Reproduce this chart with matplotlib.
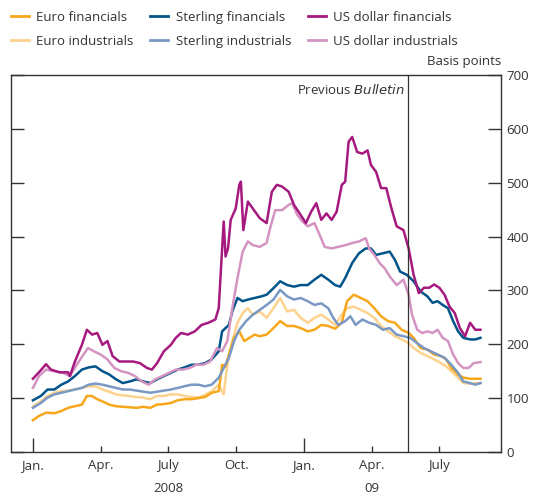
import matplotlib
matplotlib.use("Agg")
import matplotlib.pyplot as plt
from matplotlib.lines import Line2D

plt.rcParams['font.family'] = ['Open Sans', 'DejaVu Sans']

# x positions are months since January 2008
usd_fin_m = [0.00, 0.27, 0.58, 0.80, 1.18, 1.56, 1.64, 1.86, 2.17, 2.39, 2.62, 2.85, 3.08, 3.30,
             3.53, 3.83, 4.14, 4.44, 4.74, 5.05, 5.27, 5.50, 5.80, 6.11, 6.33, 6.56, 6.86, 7.17,
             7.47, 7.77, 8.08, 8.23, 8.38, 8.45, 8.53, 8.64, 8.76, 8.98, 9.14, 9.21, 9.32, 9.52,
             9.74, 10.05, 10.35, 10.58, 10.80, 11.03, 11.33, 11.56, 11.86, 12.09, 12.32, 12.55,
             12.77, 13.00, 13.23, 13.45, 13.68, 13.83, 13.98, 14.14, 14.36, 14.59, 14.82, 14.97,
             15.20, 15.42, 15.65, 15.88, 16.11, 16.41, 16.64, 16.86, 17.09, 17.32, 17.55, 17.77,
             18.00, 18.23, 18.45, 18.68, 18.91, 19.14, 19.36, 19.59, 19.82]
usd_fin = [136, 148, 163, 153, 148, 148, 141, 168, 199, 227, 218, 221, 199, 206,
           178, 168, 168, 168, 165, 156, 153, 165, 187, 199, 212, 221, 218, 224,
           236, 240, 246, 267, 378, 428, 363, 378, 431, 452, 496, 502, 412, 465,
           452, 434, 425, 483, 496, 493, 483, 459, 440, 425, 446, 462,
           431, 443, 431, 446, 496, 502, 576, 585, 557, 554, 560, 533,
           520, 490, 490, 452, 419, 412, 378, 329, 295, 305, 305, 311,
           305, 292, 270, 258, 230, 215, 240, 227, 227]

usd_ind_m = [0.00, 0.27, 0.58, 0.95, 1.33, 1.64, 1.94, 2.24, 2.44, 2.70, 3.00, 3.30, 3.61, 3.91,
             4.21, 4.52, 4.82, 5.12, 5.42, 5.73, 6.03, 6.33, 6.64, 6.94, 7.24, 7.55, 7.85, 8.15,
             8.38, 8.61, 8.83, 9.06, 9.29, 9.52, 9.74, 10.05, 10.35, 10.50, 10.73, 11.03, 11.33,
             11.48, 11.71, 11.94, 12.17, 12.47, 12.70, 12.92, 13.23, 13.53, 13.83, 14.14, 14.44,
             14.74, 14.89, 15.12, 15.35, 15.58, 15.80, 16.11, 16.41, 16.64, 16.79, 17.02, 17.24,
             17.47, 17.70, 17.92, 18.15, 18.38, 18.61, 18.83, 19.06, 19.29, 19.52, 19.82]
usd_ind = [119, 141, 153, 150, 147, 141, 162, 181, 193, 187, 181, 172, 156, 150,
           147, 141, 131, 125, 135, 141, 147, 153, 153, 156, 162, 162, 168, 193,
           187, 206, 267, 323, 372, 391, 384, 381, 388, 415, 449, 449, 459,
           462, 440, 428, 419, 425, 403, 381, 378, 381, 384, 388, 391,
           397, 378, 366, 351, 341, 326, 310, 320, 292, 255, 227, 221,
           224, 221, 227, 212, 206, 181, 165, 156, 156, 165, 167]

gbp_fin_m = [0.00, 0.35, 0.65, 0.95, 1.26, 1.56, 1.86, 2.17, 2.47, 2.77, 3.08, 3.38, 3.68, 3.98,
             4.29, 4.59, 4.89, 5.20, 5.50, 5.80, 6.11, 6.41, 6.71, 7.02, 7.32, 7.62, 7.92, 8.23,
             8.38, 8.53, 8.68, 8.83, 9.06, 9.29, 9.52, 9.82, 10.12, 10.35, 10.65, 10.95, 11.26,
             11.56, 11.86, 12.17, 12.47, 12.77, 13.08, 13.38, 13.61, 13.83, 14.14, 14.44, 14.74,
             14.97, 15.20, 15.50, 15.80, 16.03, 16.26, 16.56, 16.86, 17.17, 17.47, 17.70, 17.92,
             18.15, 18.38, 18.61, 18.83, 19.06, 19.36, 19.59, 19.82]
gbp_fin = [96, 104, 116, 116, 125, 131, 141, 153, 157, 159, 150, 144, 135, 128,
           131, 135, 131, 128, 135, 141, 147, 153, 157, 162, 162, 165, 172, 187,
           224, 230, 236, 261, 286, 280, 283, 286, 289, 292, 304, 317, 310,
           307, 310, 310, 320, 329, 320, 310, 307, 323, 351, 369, 378,
           378, 366, 369, 372, 357, 335, 329, 317, 298, 289, 277, 280,
           273, 267, 243, 224, 212, 209, 209, 212]

gbp_ind_m = [0.00, 0.35, 0.65, 0.95, 1.26, 1.56, 1.86, 2.17, 2.47, 2.77, 3.08, 3.38, 3.68, 3.98,
             4.29, 4.59, 4.89, 5.20, 5.50, 5.80, 6.11, 6.41, 6.71, 7.02, 7.32, 7.62, 7.92, 8.23,
             8.45, 8.68, 8.91, 9.14, 9.44, 9.74, 10.05, 10.35, 10.65, 10.95, 11.26, 11.56, 11.86,
             12.17, 12.47, 12.77, 13.08, 13.30, 13.53, 13.83, 14.06, 14.29, 14.59, 14.89, 15.20,
             15.50, 15.80, 16.11, 16.41, 16.71, 17.02, 17.32, 17.62, 17.92, 18.23, 18.53, 18.83,
             19.06, 19.36, 19.59, 19.82]
gbp_ind = [82, 91, 101, 107, 110, 113, 116, 119, 125, 127, 125, 122, 119, 116,
           116, 114, 112, 110, 112, 114, 116, 119, 122, 125, 125, 122, 125, 138,
           156, 175, 206, 227, 243, 255, 264, 273, 283, 301, 289, 283, 286,
           280, 273, 276, 267, 249, 236, 243, 252, 236, 246, 240, 236,
           227, 230, 218, 215, 212, 202, 193, 187, 181, 175, 162, 147,
           131, 128, 125, 128]

eur_fin_m = [0.00, 0.27, 0.58, 0.95, 1.26, 1.56, 1.86, 2.17, 2.39, 2.62, 2.85, 3.08, 3.38, 3.68,
             3.98, 4.29, 4.59, 4.89, 5.20, 5.50, 5.80, 6.11, 6.41, 6.71, 7.02, 7.32, 7.62, 7.92,
             8.23, 8.38, 8.53, 8.68, 8.91, 9.14, 9.36, 9.59, 9.82, 10.05, 10.35, 10.65, 10.95,
             11.26, 11.56, 11.86, 12.17, 12.47, 12.77, 13.08, 13.38, 13.68, 13.91, 14.21, 14.52,
             14.82, 15.12, 15.42, 15.73, 16.03, 16.33, 16.64, 16.86, 17.17, 17.47, 17.77, 18.08,
             18.30, 18.53, 18.83, 19.06, 19.36, 19.82]
eur_fin = [59, 67, 73, 72, 76, 82, 85, 88, 104, 104, 98, 94, 88, 85,
           84, 83, 82, 84, 82, 88, 89, 91, 96, 98, 98, 100, 102, 110,
           113, 162, 159, 181, 212, 224, 206, 212, 218, 215, 218, 230, 243,
           234, 234, 230, 224, 227, 236, 234, 229, 240, 280, 292, 286,
           280, 267, 252, 243, 240, 227, 221, 212, 193, 190, 181, 178,
           172, 156, 144, 138, 136, 136]

eur_ind_m = [0.00, 0.35, 0.65, 0.95, 1.26, 1.56, 1.86, 2.17, 2.47, 2.77, 3.08, 3.38, 3.68, 3.98,
             4.29, 4.59, 4.89, 5.20, 5.50, 5.80, 6.11, 6.41, 6.71, 7.02, 7.32, 7.62, 7.92, 8.23,
             8.45, 8.61, 8.83, 9.06, 9.29, 9.52, 9.74, 10.05, 10.35, 10.65, 10.95, 11.26, 11.56,
             11.86, 12.17, 12.47, 12.77, 13.08, 13.38, 13.68, 13.91, 14.21, 14.52, 14.82, 15.12,
             15.42, 15.73, 16.03, 16.33, 16.64, 16.86, 17.17, 17.47, 17.77, 18.08, 18.30, 18.53,
             18.83, 19.06, 19.36, 19.82]
eur_ind = [85, 94, 104, 110, 113, 114, 116, 119, 122, 122, 116, 112, 107, 105,
           104, 102, 101, 98, 104, 104, 107, 107, 104, 102, 101, 106, 113, 125,
           107, 162, 206, 240, 258, 267, 255, 261, 249, 267, 286, 261, 264,
           249, 240, 249, 255, 246, 236, 255, 267, 270, 264, 258, 249,
           234, 224, 215, 209, 202, 193, 184, 178, 172, 165, 159, 150,
           138, 128, 127, 128]

series = [
    ("Euro financials", eur_fin_m, eur_fin, "#f7a71c"),
    ("Euro industrials", eur_ind_m, eur_ind, "#fdd28e"),
    ("Sterling financials", gbp_fin_m, gbp_fin, "#00548a"),
    ("Sterling industrials", gbp_ind_m, gbp_ind, "#7a98c4"),
    ("US dollar financials", usd_fin_m, usd_fin, "#a6197f"),
    ("US dollar industrials", usd_ind_m, usd_ind, "#d494c2"),
]
draw_order = [1, 0, 3, 2, 5, 4]

month_ticks = [0, 3, 6, 9, 12, 15, 18]
month_labels = ["Jan.", "Apr.", "July", "Oct.", "Jan.", "Apr.", "July"]
year_pos = [6, 15]
year_labels = ["2008", "09"]
prev_bulletin = 16.61

fs = 9.5
ink = "#333333"

fig = plt.figure(figsize=(5.36, 4.96), dpi=100)
ax = fig.add_axes([11 / 536, 44 / 496, 490 / 536, 377 / 496])

for i in draw_order:
    name, m, v, c = series[i]
    ax.plot(m, v, color=c, lw=1.8, solid_joinstyle="round", zorder=3)

ax.axvline(prev_bulletin, color=ink, lw=0.9, zorder=4)
ax.text(prev_bulletin - 0.12, 673, "Previous $\\it{Bulletin}$", ha="right", va="center",
        fontsize=fs, color=ink)

ax.set_xlim(-0.97, 20.73)
ax.set_ylim(0, 700)

for s in ax.spines.values():
    s.set_color(ink)
    s.set_linewidth(1.0)

ax.set_yticks(range(0, 701, 100))
ax.yaxis.set_ticks_position("both")
ax.tick_params(axis="y", direction="in", length=9.5, width=1.0, color=ink,
               labelleft=False, labelright=True, labelsize=fs, labelcolor=ink, pad=4)

ax.set_xticks(month_ticks)
ax.set_xticklabels(month_labels)
ax.tick_params(axis="x", direction="in", length=4.5, width=1.0, color=ink,
               labelsize=fs, labelcolor=ink, pad=5)
for t, tl in zip(ax.xaxis.get_major_ticks(), month_ticks):
    if tl % 12 == 0:
        t.tick1line.set_markersize(10)

for p, lab in zip(year_pos, year_labels):
    ax.annotate(lab, xy=(p, 0), xycoords=("data", "axes fraction"), xytext=(0, -21.5),
                textcoords="offset points", ha="center", va="top", fontsize=fs, color=ink)

ax.annotate("Basis points", xy=(1, 1), xycoords="axes fraction", xytext=(0, 5),
            textcoords="offset points", ha="right", va="bottom", fontsize=fs, color=ink)

handles = [Line2D([], [], color=s[3], lw=2) for s in series]
fig.legend(handles, [s[0] for s in series], ncol=3, loc="upper left",
           bbox_to_anchor=(0.008, 0.992), frameon=False, fontsize=fs, handlelength=1.35,
           handletextpad=0.55, columnspacing=1.3, labelspacing=0.85, borderaxespad=0.25,
           borderpad=0.25, labelcolor=ink)

fig.savefig("out.png", dpi=100)
